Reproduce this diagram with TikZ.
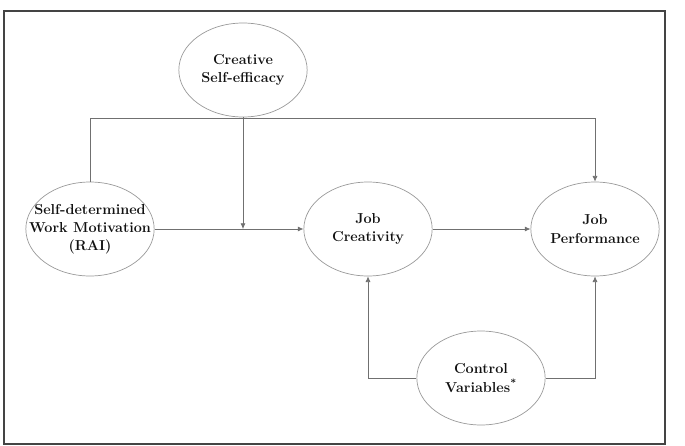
\documentclass[tikz,border=0pt]{standalone}
\usepackage{xcolor}
\usetikzlibrary{arrows.meta, positioning, shapes.geometric, calc}
\definecolor{ink}{HTML}{111111}
\definecolor{rim}{HTML}{9A9A9A}
\definecolor{wire}{HTML}{707070}
\definecolor{edge}{HTML}{444444}
\tikzset{
  construct/.style={
    ellipse, draw=rim, fill=white, line width=0.6pt,
    minimum width=3.85cm, minimum height=2.82cm, inner sep=-16pt,
    align=center, text=ink, font=\bfseries\fontsize{12.3}{15.5}\selectfont
  },
  link/.style={-{Latex[length=1.7mm,width=1.5mm]}, line width=0.6pt, draw=wire},
  frame/.style={line width=1.1pt, draw=edge},
}

\begin{document}
\begin{tikzpicture}
  \useasboundingbox (0,0) rectangle (20.55,13.35);
  \draw[frame] (0.12,0.03) rectangle (19.95,13.02);

  \node[construct] (efficacy) at (7.29,11.25) {Creative\\Self-efficacy};
  \node[construct] (motivation) at (2.70,6.48) {Self-determined\\Work Motivation\\(RAI)};
  \node[construct] (creativity) at (11.04,6.48) {Job\\Creativity};
  \node[construct] (performance) at (17.85,6.48) {Job\\Performance};
  \node[construct] (controls) at (14.43,2.01) {Control\\Variables\textsuperscript{*}};

  \coordinate (moderation) at (efficacy.south |- motivation.east);
  \coordinate (bypass) at ($(motivation.north)+(0,1.91)$);

  % main path
  \draw[link] (motivation.east) -- (creativity.west);
  \draw[link] (creativity.east) -- (performance.west);
  \draw[link] (efficacy.south) -- (moderation);

  % direct effect over the top
  \draw[link] (motivation.north) -- (bypass) -| (performance.north);

  % controls
  \draw[link] (controls.west) -| (creativity.south);
  \draw[link] (controls.east) -| (performance.south);
\end{tikzpicture}
\end{document}
